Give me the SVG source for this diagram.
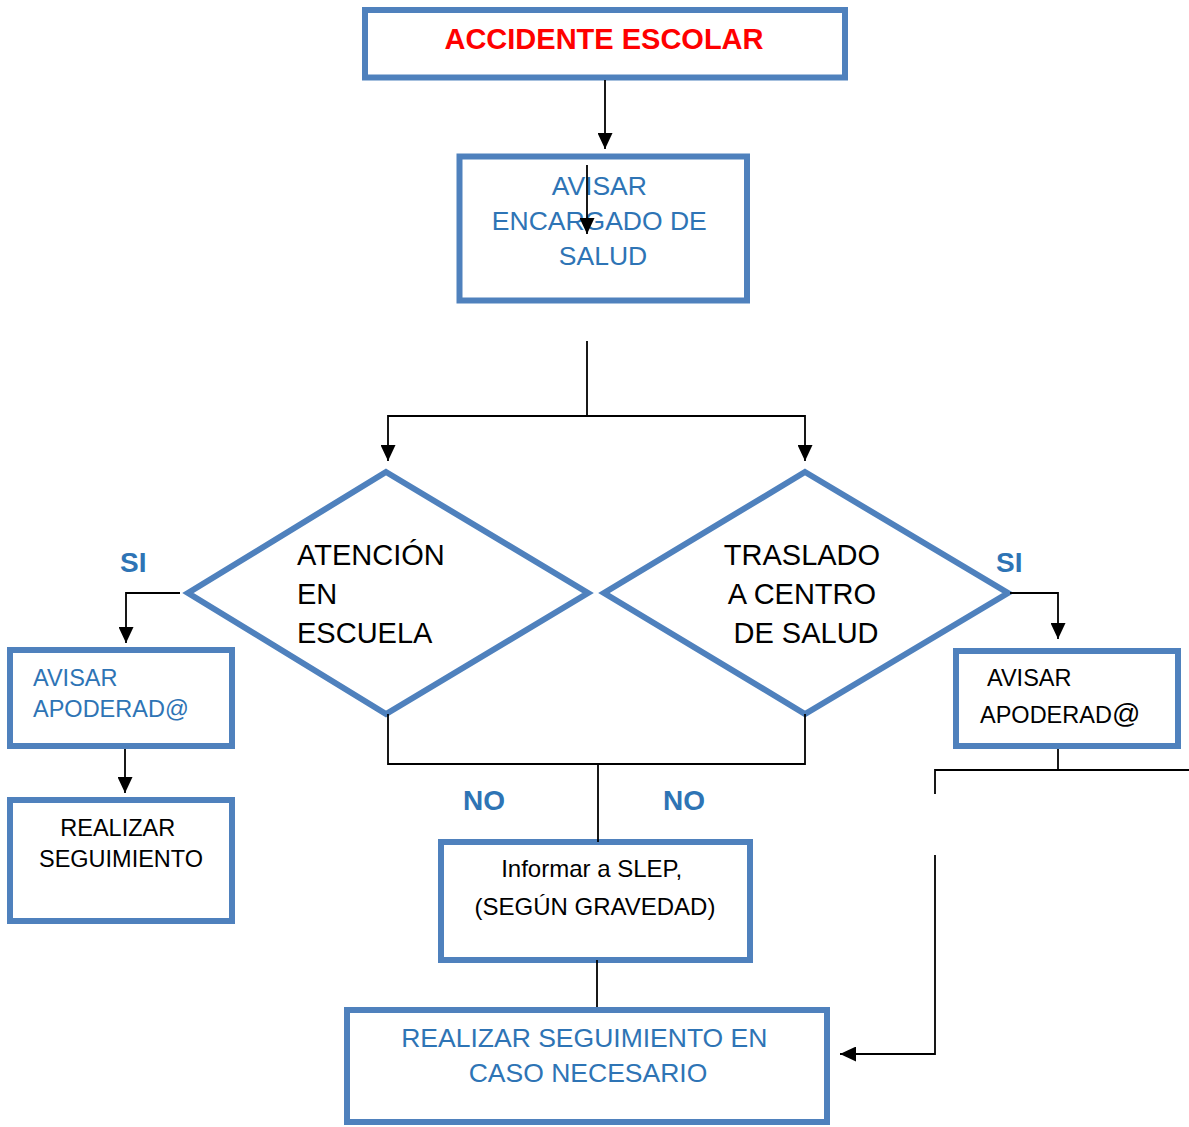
<svg xmlns="http://www.w3.org/2000/svg" width="1189" height="1127" viewBox="0 0 1189 1127">
  <defs>
    <marker id="arrow" markerUnits="userSpaceOnUse" markerWidth="16" markerHeight="15" refX="16" refY="7.5" orient="auto">
      <path d="M0,0 L16,7.5 L0,15 Z" fill="#000"/>
    </marker>
    <style>
      .box { fill: #fff; stroke: #4F81BD; stroke-width: 6; }
      .dia { fill: #fff; stroke: #4F81BD; stroke-width: 6; stroke-linejoin: miter; }
      .txt { font-family: "Liberation Sans", Arial, sans-serif; }
      .blue { fill: #2E74B5; }
      .black { fill: #000; }
      .lbl { font-family: "Liberation Sans", Arial, sans-serif; font-weight: bold; font-size: 28px; fill: #2E74B5; }
      .wire { fill: none; stroke: #000; stroke-width: 1.8; }
      .arr { marker-end: url(#arrow); }
    </style>
  </defs>

  <rect width="1189" height="1127" fill="#fff"/>

  <!-- nodes -->
  <g id="accidente">
    <rect class="box" x="365" y="10" width="480" height="67.5"/>
    <text class="txt" x="604" y="49" text-anchor="middle" font-size="29" font-weight="bold" fill="#FF0000">ACCIDENTE ESCOLAR</text>
  </g>

  <g id="avisar-encargado">
    <rect class="box" x="459.5" y="156.5" width="287.5" height="144"/>
    <text class="txt blue" font-size="26.5" text-anchor="middle">
      <tspan x="603" y="195">AVISAR</tspan>
      <tspan x="603" y="230">ENCARGADO DE</tspan>
      <tspan x="603" y="265">SALUD</tspan>
    </text>
  </g>

  <g id="atencion-escuela">
    <polygon class="dia" points="386,472 588,593 386,714 188,593"/>
    <text class="txt black" font-size="29">
      <tspan x="297" y="565">ATENCIÓN</tspan>
      <tspan x="297" y="604">EN</tspan>
      <tspan x="297" y="643">ESCUELA</tspan>
    </text>
  </g>

  <g id="traslado-centro">
    <polygon class="dia" points="805,472 1008,593 805,714 604,593"/>
    <text class="txt black" font-size="29" text-anchor="middle">
      <tspan x="806" y="565">TRASLADO</tspan>
      <tspan x="806" y="604">A CENTRO</tspan>
      <tspan x="806" y="643">DE SALUD</tspan>
    </text>
  </g>

  <g id="avisar-apoderado-izq">
    <rect class="box" x="10" y="650" width="222" height="96"/>
    <text class="txt blue" font-size="23.5">
      <tspan x="33" y="686">AVISAR</tspan>
      <tspan x="33" y="717">APODERAD@</tspan>
    </text>
  </g>

  <g id="realizar-seguimiento">
    <rect class="box" x="10" y="800" width="222" height="121"/>
    <text class="txt black" font-size="23.5" text-anchor="middle">
      <tspan x="121" y="836">REALIZAR</tspan>
      <tspan x="121" y="867">SEGUIMIENTO</tspan>
    </text>
  </g>

  <g id="avisar-apoderado-der">
    <rect class="box" x="956" y="651" width="222" height="95"/>
    <text class="txt black" font-size="23.5">
      <tspan x="987" y="686">AVISAR</tspan>
      <tspan x="980" y="723">APODERAD<tspan font-size="28">@</tspan></tspan>
    </text>
  </g>

  <g id="informar-slep">
    <rect class="box" x="441" y="842" width="309" height="118"/>
    <text class="txt black" font-size="24" text-anchor="middle">
      <tspan x="595" y="877">Informar a SLEP,</tspan>
      <tspan x="595" y="915">(SEGÚN GRAVEDAD)</tspan>
    </text>
  </g>

  <g id="seguimiento-necesario">
    <rect class="box" x="347" y="1010" width="480" height="112"/>
    <text class="txt blue" font-size="26.5" text-anchor="middle">
      <tspan x="588" y="1047">REALIZAR SEGUIMIENTO EN</tspan>
      <tspan x="588" y="1082">CASO NECESARIO</tspan>
    </text>
  </g>

  <!-- connectors -->
  <g id="connectors">
    <line class="wire arr" x1="605" y1="80" x2="605" y2="149"/>
    <line class="wire arr" x1="587" y1="165" x2="587" y2="234"/>
    <polyline class="wire" points="587,341 587,416"/>
    <polyline class="wire arr" points="587,416 388,416 388,461"/>
    <polyline class="wire arr" points="587,416 805,416 805,461"/>
    <polyline class="wire arr" points="180,593 126,593 126,643"/>
    <line class="wire arr" x1="125" y1="749" x2="125" y2="793"/>
    <polyline class="wire arr" points="1010,593 1058,593 1058,639"/>
    <polyline class="wire" points="1058,749 1058,770"/>
    <polyline class="wire" points="1189,770 935,770 935,794"/>
    <polyline class="wire arr" points="935,855 935,1054 840,1054"/>
    <polyline class="wire" points="388,714 388,764 805,764 805,714"/>
    <line class="wire" x1="598" y1="764" x2="598" y2="842"/>
    <line class="wire" x1="597" y1="960" x2="597" y2="1007"/>
  </g>

  <!-- branch labels -->
  <g id="labels">
    <text class="lbl" x="120" y="572">SI</text>
    <text class="lbl" x="996" y="572">SI</text>
    <text class="lbl" x="463" y="810">NO</text>
    <text class="lbl" x="663" y="810">NO</text>
  </g>
</svg>
